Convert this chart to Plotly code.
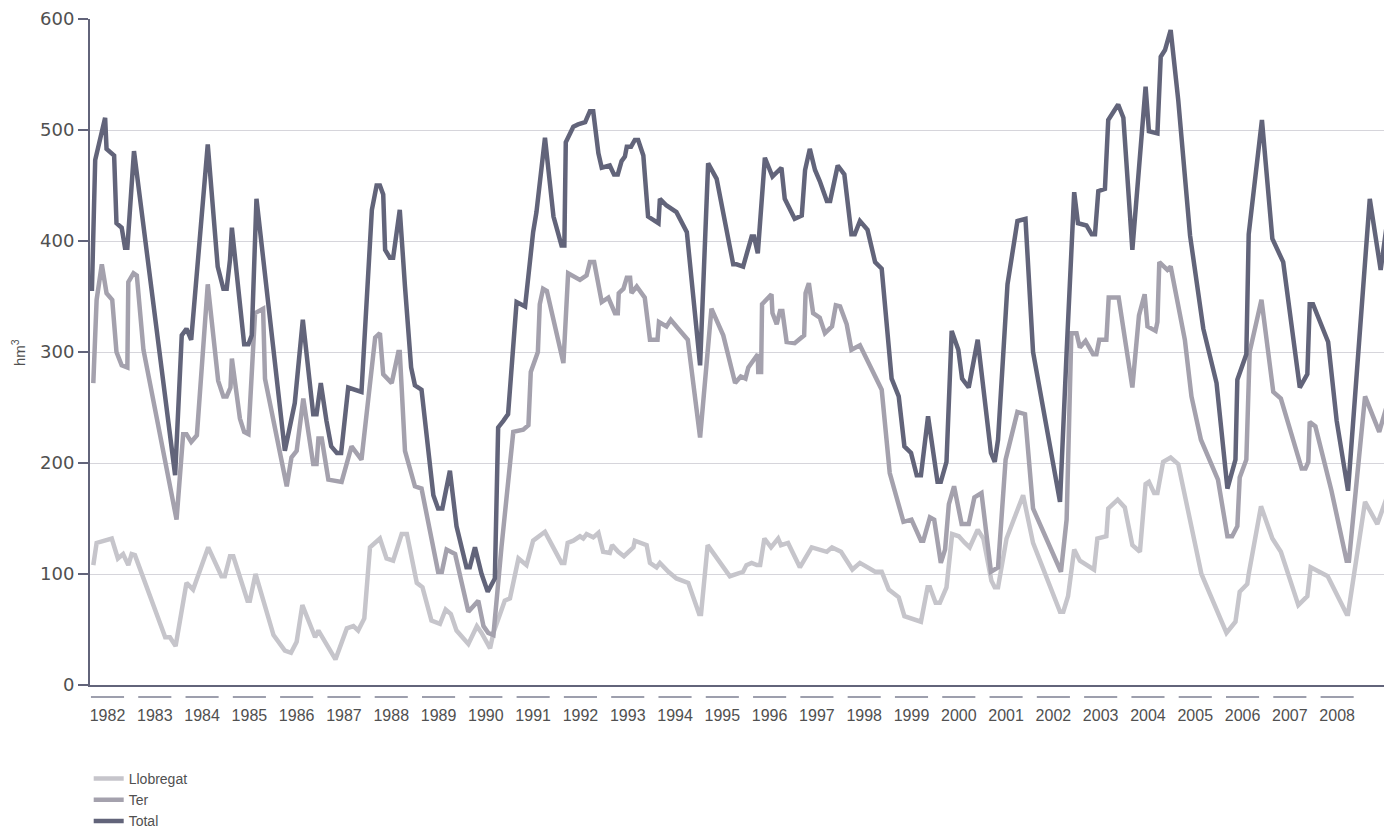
import plotly.graph_objects as go

years = list(range(1982, 2009))

total_t = [1982.04, 1982.11, 1982.32, 1982.35, 1982.51, 1982.56, 1982.67, 1982.74, 1982.79, 1982.93,
           1983.80, 1983.94, 1984.04, 1984.14, 1984.49, 1984.70, 1984.82, 1984.89, 1984.96, 1985.00,
           1985.26, 1985.35, 1985.42, 1985.52, 1986.12, 1986.33, 1986.50, 1986.72, 1986.79, 1986.88,
           1987.00, 1987.10, 1987.22, 1987.31, 1987.46, 1987.60, 1987.74, 1987.96, 1988.06, 1988.13,
           1988.20, 1988.24, 1988.34, 1988.41, 1988.55, 1988.66, 1988.79, 1988.87, 1989.01, 1989.26,
           1989.36, 1989.45, 1989.61, 1989.75, 1989.96, 1990.03, 1990.14, 1990.28, 1990.41, 1990.56,
           1990.63, 1990.74, 1990.84, 1991.02, 1991.20, 1991.37, 1991.44, 1991.62, 1991.80, 1991.97,
           1992.03, 1992.06, 1992.22, 1992.32, 1992.47, 1992.57, 1992.64, 1992.75, 1992.82, 1992.99,
           1993.08, 1993.16, 1993.24, 1993.31, 1993.35, 1993.44, 1993.52, 1993.59, 1993.70, 1993.80,
           1993.95, 1994.02, 1994.05, 1994.19, 1994.40, 1994.51, 1994.62, 1994.90, 1995.07, 1995.25,
           1995.60, 1995.67, 1995.81, 1995.99, 1996.04, 1996.12, 1996.27, 1996.43, 1996.62, 1996.69,
           1996.90, 1997.05, 1997.12, 1997.22, 1997.33, 1997.43, 1997.58, 1997.65, 1997.81, 1997.95,
           1998.10, 1998.17, 1998.28, 1998.44, 1998.60, 1998.74, 1998.95, 1999.10, 1999.22, 1999.36,
           1999.48, 1999.57, 1999.72, 1999.92, 1999.99, 2000.11, 2000.22, 2000.36, 2000.44, 2000.58,
           2000.77, 2001.05, 2001.13, 2001.20, 2001.40, 2001.61, 2001.78, 2001.94, 2002.51, 2002.65,
           2002.81, 2002.89, 2003.07, 2003.18, 2003.25, 2003.32, 2003.46, 2003.53, 2003.74, 2003.85,
           2004.04, 2004.32, 2004.39, 2004.57, 2004.64, 2004.73, 2004.85, 2005.01, 2005.26, 2005.54,
           2005.82, 2006.05, 2006.22, 2006.26, 2006.45, 2006.50, 2006.78, 2007.00, 2007.23, 2007.58,
           2007.74, 2007.79, 2007.86, 2008.18, 2008.36, 2008.60, 2008.83, 2009.06, 2009.29, 2009.52]
total_v = [355, 473, 511, 483, 477, 416, 412, 394, 394, 481,
           189, 315, 321, 311, 487, 377, 357, 357, 383, 412,
           307, 307, 315, 438, 211, 254, 329, 244, 244, 272,
           238, 215, 209, 209, 268, 266, 264, 428, 450, 450,
           442, 392, 385, 385, 428, 359, 286, 270, 266, 171,
           159, 159, 193, 143, 106, 106, 124, 100, 84, 96,
           232, 238, 244, 345, 341, 408, 426, 493, 422, 396,
           396, 489, 503, 505, 507, 517, 517, 479, 466, 468,
           460, 460, 472, 476, 485, 485, 491, 491, 477, 422,
           418, 416, 438, 432, 426, 416, 408, 288, 470, 456,
           379, 379, 377, 404, 404, 389, 475, 458, 466, 438,
           420, 423, 464, 483, 464, 454, 436, 436, 468, 460,
           406, 406, 418, 410, 381, 375, 276, 260, 215, 209,
           189, 189, 242, 183, 183, 201, 319, 302, 276, 268,
           311, 209, 201, 221, 361, 418, 420, 300, 165, 300,
           444, 416, 414, 406, 406, 445, 447, 509, 523, 511,
           392, 539, 499, 497, 566, 572, 590, 527, 405, 321,
           272, 177, 203, 275, 298, 406, 509, 402, 381, 268,
           280, 343, 343, 309, 238, 175, 304, 438, 374, 446]

ter_t = [1982.07, 1982.14, 1982.25, 1982.35, 1982.47, 1982.56, 1982.67, 1982.79, 1982.81, 1982.92,
         1982.99, 1983.13, 1983.83, 1983.97, 1984.04, 1984.14, 1984.26, 1984.49, 1984.71, 1984.82,
         1984.89, 1984.97, 1985.00, 1985.17, 1985.26, 1985.35, 1985.49, 1985.66, 1985.70, 1986.16,
         1986.26, 1986.37, 1986.51, 1986.72, 1986.79, 1986.83, 1986.90, 1987.04, 1987.32, 1987.53,
         1987.74, 1988.03, 1988.13, 1988.20, 1988.38, 1988.52, 1988.55, 1988.66, 1988.87, 1989.01,
         1989.36, 1989.44, 1989.54, 1989.72, 1990.00, 1990.21, 1990.32, 1990.42, 1990.53, 1990.70,
         1990.95, 1991.16, 1991.27, 1991.32, 1991.47, 1991.51, 1991.58, 1991.66, 1992.01, 1992.11,
         1992.36, 1992.50, 1992.57, 1992.66, 1992.82, 1992.96, 1993.10, 1993.16, 1993.18, 1993.28,
         1993.35, 1993.42, 1993.45, 1993.56, 1993.73, 1993.84, 1994.00, 1994.03, 1994.19, 1994.28,
         1994.44, 1994.64, 1994.90, 1995.14, 1995.39, 1995.64, 1995.76, 1995.86, 1995.92, 1996.02,
         1996.12, 1996.13, 1996.19, 1996.21, 1996.41, 1996.43, 1996.52, 1996.59, 1996.64, 1996.73,
         1996.90, 1997.10, 1997.13, 1997.20, 1997.29, 1997.43, 1997.54, 1997.69, 1997.77, 1997.86,
         1998.00, 1998.10, 1998.28, 1998.74, 1998.91, 1999.20, 1999.37, 1999.57, 1999.62, 1999.76,
         1999.85, 1999.99, 2000.08, 2000.16, 2000.27, 2000.43, 2000.58, 2000.70, 2000.85, 2001.05,
         2001.20, 2001.36, 2001.61, 2001.77, 2001.94, 2002.53, 2002.65, 2002.75, 2002.86, 2002.93,
         2003.05, 2003.21, 2003.28, 2003.34, 2003.49, 2003.54, 2003.75, 2004.04, 2004.18, 2004.30,
         2004.36, 2004.53, 2004.57, 2004.61, 2004.78, 2004.85, 2005.15, 2005.29, 2005.49, 2005.85,
         2006.05, 2006.15, 2006.26, 2006.31, 2006.45, 2006.52, 2006.77, 2007.02, 2007.18, 2007.62,
         2007.70, 2007.76, 2007.79, 2007.91, 2008.25, 2008.57, 2008.62, 2008.80, 2008.96, 2009.26,
         2009.52]
ter_v = [272, 347, 379, 353, 347, 300, 288, 286, 363, 371,
         369, 302, 149, 226, 226, 219, 225, 361, 274, 260,
         260, 268, 294, 240, 228, 226, 335, 339, 276, 179,
         205, 211, 258, 199, 199, 222, 222, 185, 183, 215,
         203, 313, 317, 280, 272, 300, 300, 211, 179, 177,
         102, 102, 122, 118, 66, 76, 53, 47, 45, 124,
         228, 230, 234, 282, 300, 343, 357, 355, 290, 371,
         365, 369, 381, 381, 345, 349, 335, 335, 353, 357,
         367, 367, 353, 359, 349, 311, 311, 327, 323, 329,
         321, 311, 223, 339, 315, 272, 278, 276, 286, 292,
         298, 282, 282, 343, 352, 335, 325, 337, 337, 309,
         308, 315, 353, 362, 335, 331, 317, 323, 342, 341,
         325, 302, 306, 266, 191, 147, 149, 130, 130, 151,
         149, 110, 122, 163, 179, 145, 145, 169, 173, 102,
         106, 203, 246, 244, 159, 102, 149, 317, 317, 304,
         310, 298, 298, 311, 311, 349, 349, 268, 333, 352,
         323, 319, 327, 381, 374, 377, 311, 260, 221, 185,
         134, 134, 143, 187, 203, 300, 347, 264, 258, 195,
         195, 201, 237, 233, 175, 112, 112, 191, 260, 228,
         266]

llob_t = [1982.07, 1982.14, 1982.46, 1982.59, 1982.70, 1982.81, 1982.88, 1982.95, 1983.59, 1983.69,
          1983.81, 1984.04, 1984.18, 1984.50, 1984.78, 1984.85, 1984.96, 1985.03, 1985.33, 1985.38,
          1985.50, 1985.88, 1986.12, 1986.25, 1986.37, 1986.49, 1986.76, 1986.83, 1987.19, 1987.43,
          1987.57, 1987.67, 1987.80, 1987.92, 1988.13, 1988.27, 1988.41, 1988.59, 1988.70, 1988.91,
          1989.03, 1989.22, 1989.40, 1989.52, 1989.63, 1989.75, 1990.00, 1990.18, 1990.28, 1990.46,
          1990.53, 1990.77, 1990.88, 1991.06, 1991.23, 1991.37, 1991.62, 1991.97, 1992.03, 1992.10,
          1992.22, 1992.36, 1992.43, 1992.50, 1992.64, 1992.75, 1992.85, 1992.99, 1993.04, 1993.17,
          1993.29, 1993.49, 1993.52, 1993.77, 1993.84, 1993.98, 1994.05, 1994.23, 1994.40, 1994.65,
          1994.88, 1994.92, 1995.06, 1995.53, 1995.81, 1995.88, 1995.99, 1996.10, 1996.17, 1996.26,
          1996.40, 1996.55, 1996.61, 1996.76, 1997.01, 1997.26, 1997.58, 1997.69, 1997.88, 1998.12,
          1998.28, 1998.60, 1998.74, 1998.89, 1999.10, 1999.22, 1999.57, 1999.71, 1999.76, 1999.88,
          1999.97, 2000.11, 2000.23, 2000.37, 2000.50, 2000.60, 2000.77, 2000.89, 2001.06, 2001.13,
          2001.20, 2001.38, 2001.73, 2001.94, 2002.51, 2002.58, 2002.68, 2002.81, 2002.93, 2003.23,
          2003.30, 2003.49, 2003.53, 2003.73, 2003.88, 2004.04, 2004.20, 2004.32, 2004.39, 2004.50,
          2004.57, 2004.69, 2004.85, 2005.01, 2005.50, 2006.03, 2006.22, 2006.31, 2006.47, 2006.50,
          2006.76, 2007.00, 2007.18, 2007.55, 2007.74, 2007.81, 2008.17, 2008.57, 2008.60, 2008.96,
          2009.22, 2009.52]
llob_v = [108, 128, 132, 114, 118, 108, 118, 117, 43, 43,
          35, 92, 86, 124, 98, 98, 116, 116, 76, 76,
          100, 45, 31, 29, 39, 72, 43, 49, 23, 51,
          53, 49, 60, 124, 132, 114, 112, 136, 136, 92,
          88, 58, 55, 68, 64, 49, 37, 53, 47, 33,
          47, 76, 78, 114, 108, 130, 138, 110, 110, 128,
          130, 134, 132, 136, 133, 137, 120, 119, 126, 120,
          116, 124, 130, 126, 110, 106, 110, 102, 96, 92,
          64, 64, 126, 98, 102, 108, 110, 108, 108, 132,
          124, 132, 126, 128, 106, 124, 120, 124, 120, 104,
          110, 102, 102, 86, 79, 62, 57, 88, 88, 74,
          74, 88, 136, 134, 128, 124, 140, 132, 94, 88,
          88, 132, 171, 128, 66, 66, 80, 122, 112, 104,
          132, 134, 159, 167, 160, 126, 120, 181, 183, 173,
          173, 201, 205, 199, 100, 47, 57, 84, 91, 100,
          161, 132, 120, 72, 80, 106, 98, 64, 64, 165,
          145, 181]

C_LLOB = "#c6c5cb"
C_TER = "#a4a1ad"
C_TOTAL = "#62647a"
AXIS = "#62647a"
TXT = "#505050"

fig = go.Figure()
fig.add_trace(go.Scatter(x=llob_t, y=llob_v, mode="lines", name="Llobregat",
                         line=dict(color=C_LLOB, width=4.5)))
fig.add_trace(go.Scatter(x=ter_t, y=ter_v, mode="lines", name="Ter",
                         line=dict(color=C_TER, width=4.5)))
fig.add_trace(go.Scatter(x=total_t, y=total_v, mode="lines", name="Total",
                         line=dict(color=C_TOTAL, width=4.5)))

for yr in years:
    fig.add_shape(type="line", xref="x", yref="paper", x0=yr + 0.02, x1=yr + 0.72,
                  y0=-0.018, y1=-0.018, line=dict(color="#7d7f92", width=1.5))

fig.add_annotation(text="hm<sup>3</sup>", xref="paper", yref="paper",
                   x=-0.0553, y=0.5, textangle=-90, showarrow=False,
                   font=dict(size=15, color=TXT), xanchor="center", yanchor="middle")

fig.update_layout(
    width=1384, height=840,
    margin=dict(l=82, r=0, t=9, b=163),
    paper_bgcolor="white", plot_bgcolor="white",
    font=dict(family="Liberation Sans, Arial, sans-serif", color=TXT),
    showlegend=True,
    legend=dict(x=-0.001, y=-0.117, xanchor="left", yanchor="top",
                font=dict(size=14, color=TXT), tracegroupgap=0,
                bgcolor="rgba(0,0,0,0)", itemwidth=30),
    xaxis=dict(range=[1982, 2009.53], showgrid=False, zeroline=False,
               showline=True, linecolor=AXIS, linewidth=2,
               tickmode="array", tickvals=[y + 0.37 for y in years],
               ticktext=[str(y) for y in years],
               ticks="outside", ticklen=15, tickcolor="rgba(0,0,0,0)",
               tickfont=dict(size=16, color=TXT)),
    yaxis=dict(range=[0, 600], tickvals=[0, 100, 200, 300, 400, 500, 600],
               showgrid=True, gridcolor="#d6d5db", gridwidth=1, zeroline=False,
               showline=True, linecolor=AXIS, linewidth=2,
               ticks="outside", ticklen=10, tickcolor=AXIS, tickwidth=1.5,
               ticklabeloverflow="allow",
               tickfont=dict(size=18, color=TXT, family="DejaVu Sans, sans-serif")),
)

fig.write_html("out.html")
